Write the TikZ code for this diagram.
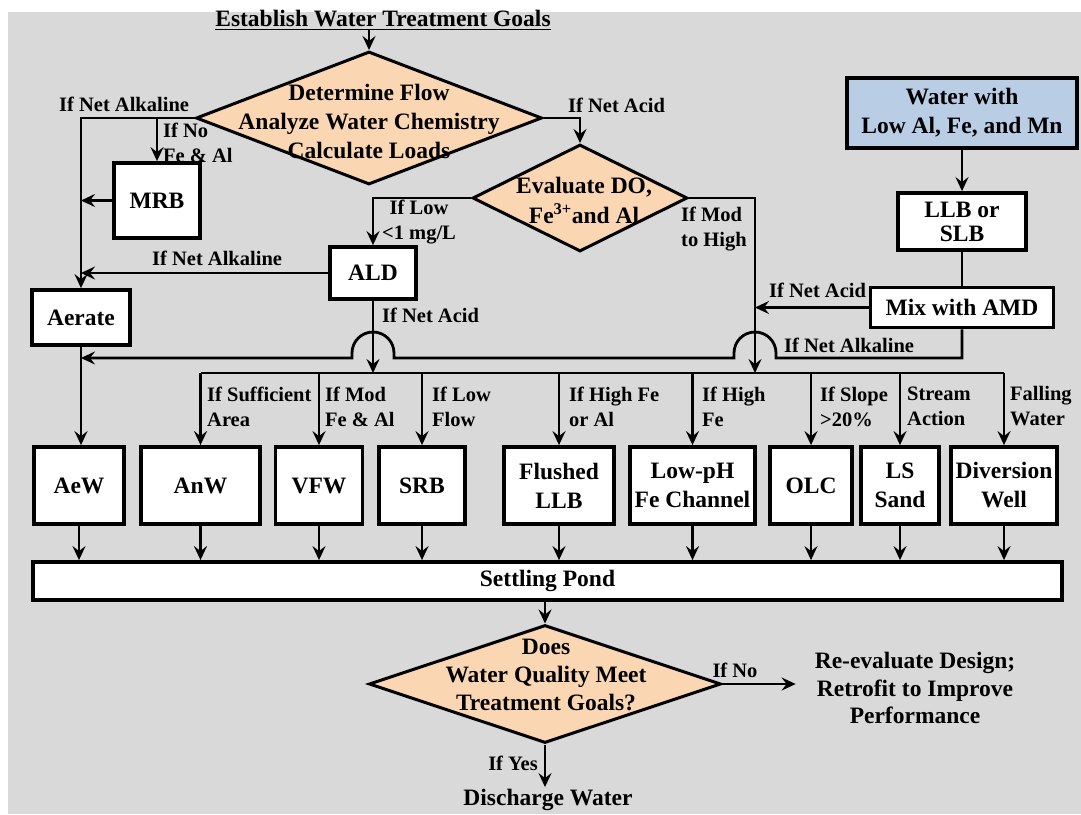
\documentclass[tikz,border=0pt]{standalone}
\usepackage{fontspec}
\setmainfont{Liberation Serif}
\usetikzlibrary{shapes.geometric,arrows.meta}
\definecolor{peach}{HTML}{FAD6B3}
\definecolor{lblue}{HTML}{B9CDE5}
\definecolor{bggray}{HTML}{D9D9D9}
\begin{document}
\begin{tikzpicture}[x=1pt,y=-1pt,
  lab/.style={font=\fontsize{20.5}{25}\selectfont\bfseries, inner sep=0pt, align=left},
  big/.style={font=\fontsize{23.5}{28}\selectfont\bfseries, inner sep=0pt, align=center},
  box/.style={draw, line width=3.8pt, fill=white, inner sep=0pt, align=center, font=\fontsize{23.5}{29}\selectfont\bfseries},
  dia/.style={diamond, draw, line width=3pt, fill=peach, inner sep=0pt},
  con/.style={line width=2.8pt},
  arr/.style={con, -{Stealth[length=14pt,width=13pt,inset=5pt]}},
]
\useasboundingbox (0,0) rectangle (1081,814);
\fill[bggray] (8,12) rectangle (1081,814);

% title and decisions
\node[big] (title) at (383,20) {\underline{Establish Water Treatment Goals}};
\node[dia, minimum width=346pt, minimum height=133pt] (d1) at (369,118) {};
\node[big, font=\fontsize{23.5}{29}\selectfont\bfseries] (d1t) at (369,121) {Determine Flow\\Analyze Water Chemistry\\Calculate Loads};
\node[dia, minimum width=215pt, minimum height=107pt] (d2) at (580,198) {};
\node[big, font=\fontsize{23.5}{30}\selectfont\bfseries] (d2t) at (584,200) {Evaluate DO,\\Fe\textsuperscript{3+}and Al};

% boxes
\node[box, fill=lblue, minimum width=230pt, minimum height=70pt] (water) at (962,113) {Water with\\Low Al, Fe, and Mn};
\node[box, minimum width=128pt, minimum height=57pt, font=\fontsize{23.5}{24}\selectfont\bfseries] (llb) at (962,221.5) {LLB or\\SLB};
\node[box, minimum width=183pt, minimum height=40pt] (mix) at (962,307.5) {Mix with AMD};
\node[box, minimum width=86pt, minimum height=75pt] (mrb) at (157,200.5) {MRB};
\node[box, minimum width=98pt, minimum height=55pt] (aerate) at (81,317.5) {Aerate};
\node[box, minimum width=86pt, minimum height=52pt] (ald) at (373,273) {ALD};

\node[box, minimum width=90pt, minimum height=77pt] (aew) at (79,485.5) {AeW};
\node[box, minimum width=119pt, minimum height=77pt] (anw) at (200.5,485.5) {AnW};
\node[box, minimum width=87pt, minimum height=77pt] (vfw) at (319,485.5) {VFW};
\node[box, minimum width=86pt, minimum height=77pt] (srb) at (422,485.5) {SRB};
\node[box, minimum width=110pt, minimum height=77pt] (fl) at (559,485.5) {Flushed\\LLB};
\node[box, minimum width=125pt, minimum height=77pt] (lph) at (692.5,485.5) {Low-pH\\Fe Channel};
\node[box, minimum width=82pt, minimum height=77pt] (olc) at (811,485.5) {OLC};
\node[box, minimum width=78pt, minimum height=77pt] (ls) at (900,485.5) {LS\\Sand};
\node[box, minimum width=106pt, minimum height=77pt] (dw) at (1004,485.5) {Diversion\\Well};

\node[box, minimum width=1029pt, minimum height=38pt] (pond) at (547.5,581) {Settling Pond};
\node[dia, minimum width=352pt, minimum height=118pt] (d3) at (545,684) {};
\node[big] (d3t) at (546,675) {Does\\Water Quality Meet\\Treatment Goals?};
\node[big, font=\fontsize{23.5}{27.5}\selectfont\bfseries] (reeval) at (915,688) {Re-evaluate Design;\\Retrofit to Improve\\Performance};
\node[big, inner sep=2pt] (dis) at (548,800) {Discharge Water};

% labels
\node[lab, anchor=west] (lna1) at (59,104) {If Net Alkaline};
\node[lab, anchor=west] (lnofe) at (163,142.5) {If No\\Fe \& Al};
\node[lab, anchor=west] (lnac1) at (568,105) {If Net Acid};
\node[lab, align=center] (llow) at (419,222.5) {If Low\\<1 mg/L};
\node[lab, anchor=west] (lmod) at (681,229) {If Mod\\to High};
\node[lab, anchor=west] (lna2) at (152,258) {If Net Alkaline};
\node[lab, anchor=west] (lnac2) at (382,315) {If Net Acid};
\node[lab, anchor=west] (lnac3) at (769,290) {If Net Acid};
\node[lab, anchor=west] (lna3) at (784,345) {If Net Alkaline};
\node[lab, anchor=west] (lb1) at (207,406.5) {If Sufficient\\Area};
\node[lab, anchor=west] (lb2) at (325,406.5) {If Mod\\Fe \& Al};
\node[lab, anchor=west] (lb3) at (432,406.5) {If Low\\Flow};
\node[lab, anchor=west] (lb4) at (569,406.5) {If High Fe\\or Al};
\node[lab, anchor=west] (lb5) at (702,406.5) {If High\\Fe};
\node[lab, anchor=west] (lb6) at (820,406.5) {If Slope\\>20\%};
\node[lab, anchor=west] (lb7) at (907,406.5) {Stream\\Action};
\node[lab, anchor=west] (lb8) at (1010,406.5) {Falling\\Water};
\node[lab] (lno) at (735,670) {If No};
\node[lab, anchor=east] (lyes) at (538,763) {If Yes};

% helper coordinates
\coordinate (busL) at (0,373);
\coordinate (alkY) at (0,358);
\coordinate (modx) at (755,198);

% connectors
\draw[arr] (title.south -| d1.north) -- (d1.north);
\draw[arr] (d1.west) -| (aerate.north);
\draw[arr] (d1.west -| mrb.north) -- (mrb.north);
\draw[arr] (mrb.west) -- (mrb.west -| aerate.north);
\draw[arr] (d1.east) -| (d2.north);
\draw[arr] (d2.west) -| (ald.north);
\draw[arr] (ald.west) -- (ald.west -| aerate.north);
\draw[arr] (ald.south) -- (ald.south |- busL);
\draw[arr] (d2.east) -- (modx) -- (modx |- busL);
\draw[arr] (water.south) -- (llb.north);
\draw[con] (llb.south) -- (mix.north);
\draw[arr] (mix.west) -- (mix.west -| modx);
\draw[arr] (mix.south) -- (mix.south |- alkY) -- (776,358) -- (776,353)
  .. controls (776,341.4) and (766.6,332) .. (755,332)
  .. controls (743.4,332) and (734,341.4) .. (734,353) -- (734,358)
  -- (394,358) -- (394,353)
  .. controls (394,341.4) and (384.6,332) .. (373,332)
  .. controls (361.4,332) and (352,341.4) .. (352,353) -- (352,358)
  -- (aerate.south |- alkY);
\draw[arr] (aerate.south) -- (aerate.south |- aew.north);

% distribution bus
\draw[con] (anw.north |- busL) -- (dw.north |- busL);
\foreach \b in {anw,vfw,srb,fl,lph,olc,ls,dw}{
  \draw[arr] (\b.north |- busL) -- (\b.north);
}
\foreach \b in {aew,anw,vfw,srb,fl,lph,olc,ls,dw}{
  \draw[arr] (\b.south) -- (\b.south |- pond.north);
}
\draw[arr] (pond.south -| d3.north) -- (d3.north);
\draw[arr, shorten >=19pt] (d3.east) -- (reeval.west |- d3.east);
\draw[arr] (d3.south) -- (d3.south |- dis.north);
\end{tikzpicture}
\end{document}
